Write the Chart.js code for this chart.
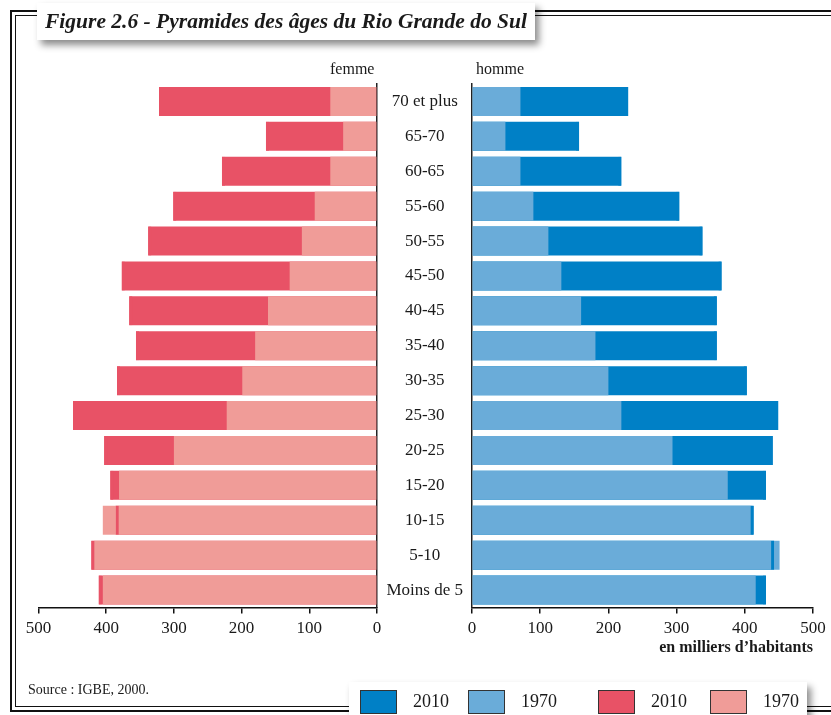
<!DOCTYPE html>
<html lang="fr">
<head>
<meta charset="utf-8">
<title>Pyramides des âges du Rio Grande do Sul</title>
<script src="https://cdn.jsdelivr.net/npm/chart.js@4.4.0/dist/chart.umd.min.js"></script>
<style>
  html, body { margin: 0; padding: 0; background: #fff; }
  body {
    width: 831px; height: 715px; position: relative; overflow: hidden;
    font-family: 'Liberation Serif', 'DejaVu Serif', serif; color: #1a1a1a;
  }
  .frame-outer { position: absolute; left: 10px; top: 10px; width: 900px; height: 698px; border: 2px solid #111; }
  .frame-inner { position: absolute; left: 15px; top: 15px; width: 900px; height: 690px; border: 1px solid #111; }
  .wrap { position: absolute; top: 0; height: 715px; }
  #leftWrap { left: 0; width: 472px; }
  #rightWrap { left: 456px; width: 375px; }
  .box { position: absolute; background: #fff; box-shadow: 4px 5px 7px rgba(0,0,0,0.45); }
  #title {
    left: 37px; top: 3px; width: 498px; height: 37px; box-sizing: border-box;
    padding-left: 8px; font-weight: bold; font-style: italic; font-size: 21.5px;
    line-height: 37px; white-space: nowrap;
  }
  .side { position: absolute; top: 59px; font-size: 16px; line-height: 20px; }
  #femme { left: 330px; }
  #homme { left: 476px; }
  #source { position: absolute; left: 28px; top: 681px; font-size: 14px; line-height: 18px; }
  #legend { left: 349px; top: 682px; width: 458px; height: 40px; }
  .item { position: absolute; top: 8px; height: 23px; display: flex; align-items: center; font-size: 18px; }
  .item span.sq { display: inline-block; width: 35px; height: 22px; border: 1px solid #333; margin-right: 16px; }
</style>
</head>
<body>
<div class="frame-outer"></div>
<div class="frame-inner"></div>

<div class="wrap" id="leftWrap"><canvas id="femmeChart"></canvas></div>
<div class="wrap" id="rightWrap"><canvas id="hommeChart"></canvas></div>

<div class="side" id="femme">femme</div>
<div class="side" id="homme">homme</div>
<div id="source">Source : IGBE, 2000.</div>

<div class="box" id="title">Figure 2.6 - Pyramides des âges du Rio Grande do Sul</div>
<div class="box" id="legend"></div>

<script>
// classes d'âge, du haut vers le bas
var ages = ["70 et plus", "65-70", "60-65", "55-60", "50-55", "45-50", "40-45",
            "35-40", "30-35", "25-30", "20-25", "15-20", "10-15", "5-10", "Moins de 5"];

// en milliers d'habitants
var femme1970 = [69, 50, 69, 92, 111, 129, 161, 180, 199, 222, 300, 381, 405, 418, 405];
var femme2010 = [322, 164, 229, 301, 338, 377, 366, 356, 384, 449, 403, 394, 386, 422, 411];
var homme1970 = [71, 49, 71, 90, 112, 131, 160, 181, 200, 219, 294, 375, 410, 451, 416];
var homme2010 = [229, 157, 219, 304, 338, 366, 359, 359, 403, 449, 441, 431, 413, 443, 431];

var years = ["2010", "1970"];

//colours
var blue2010 = "#0080c6";
var blue1970 = "#6aacd9";
var red2010 = "#e85266";
var red1970 = "#f09c98";

Chart.defaults.font.family = "'Liberation Serif', 'DejaVu Serif', serif";
Chart.defaults.color = "#1a1a1a";

function panel(id, side, data1970, data2010, col1970, col2010) {
    var left = side === "left";
    // 2010 outline on top only marks the end of the 2010 bar
    var edge = left ? {left: 3, right: 0, top: 0, bottom: 0} : {left: 0, right: 3, top: 0, bottom: 0};

    var xScale = {
        type: "linear",
        min: 0,
        max: 500,
        reverse: left,
        ticks: { stepSize: 100, padding: 5, font: { size: 17 } },
        grid: { drawOnChartArea: false, tickLength: 6, color: "#111", lineWidth: 1.5 },
        border: { color: "#111", width: 1.5 },
        afterFit: function(s) { s.height = 50; }
    };
    if (!left) {
        xScale.title = {
            display: true,
            text: "en milliers d\u2019habitants",
            align: "end",
            font: { size: 16, weight: "bold" },
            padding: { top: 0, bottom: 0 }
        };
    }

    var yScale = left ? {
        position: "right",
        ticks: { crossAlign: "center", padding: 9.5, font: { size: 17 } },
        grid: { drawOnChartArea: false, drawTicks: false },
        border: { color: "#222", width: 1.5 },
        afterFit: function(s) { s.width = 95; }
    } : {
        position: "left",
        ticks: { display: false },
        grid: { drawOnChartArea: false, drawTicks: false },
        border: { color: "#222", width: 1.5 },
        afterFit: function(s) { s.width = 0; }
    };

    return new Chart(id, {
        type: "bar",
        data: {
            labels: ages,
            datasets: [{
                label: years[0] + " fin",
                data: data2010,
                backgroundColor: "rgba(0,0,0,0)",
                borderColor: col2010,
                borderWidth: edge,
                borderSkipped: false
            }, {
                label: years[1],
                data: data1970,
                backgroundColor: col1970
            }, {
                label: years[0],
                data: data2010,
                backgroundColor: col2010
            }]
        },
        options: {
            indexAxis: "y",
            responsive: true,
            maintainAspectRatio: false,
            animation: false,
            layout: {
                padding: left ? { left: 38.5, right: 0, top: 84, bottom: 57.5 }
                              : { left: 16, right: 18, top: 84, bottom: 57.5 }
            },
            datasets: {
                bar: { grouped: false, barPercentage: 0.83, categoryPercentage: 1 }
            },
            plugins: {
                legend: { display: false },
                tooltip: { enabled: false }
            },
            scales: { x: xScale, y: yScale }
        }
    });
}

panel("femmeChart", "left", femme1970, femme2010, red1970, red2010);
panel("hommeChart", "right", homme1970, homme2010, blue1970, blue2010);

// legend
var legendItems = [
    { text: years[0], color: blue2010, x: 11 },
    { text: years[1], color: blue1970, x: 119 },
    { text: years[0], color: red2010, x: 249 },
    { text: years[1], color: red1970, x: 361 }
];
var legend = document.getElementById("legend");
legendItems.forEach(function(item) {
    var div = document.createElement("div");
    div.className = "item";
    div.style.left = item.x + "px";
    var sq = document.createElement("span");
    sq.className = "sq";
    sq.style.background = item.color;
    div.appendChild(sq);
    div.appendChild(document.createTextNode(item.text));
    legend.appendChild(div);
});
</script>
</body>
</html>
